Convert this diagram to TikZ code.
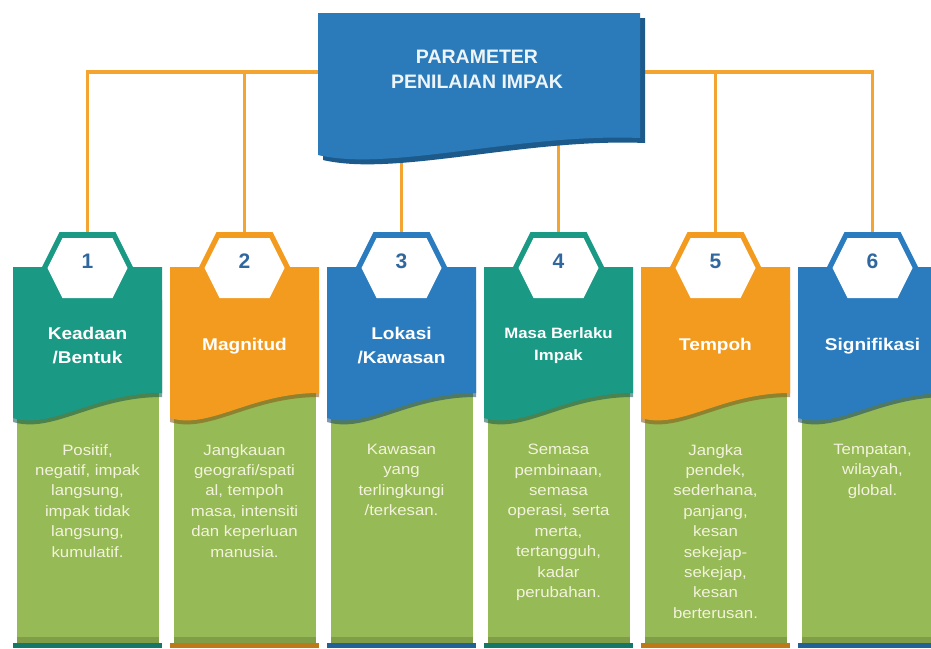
\documentclass[tikz,border=0pt]{standalone}
\usepackage{fontspec}
\setmainfont{Liberation Sans}
\newfontfamily\widefont[FakeStretch=1.12]{Liberation Sans}
\definecolor{cteal}{HTML}{1A9985}
\definecolor{corange}{HTML}{F39B1F}
\definecolor{cblue}{HTML}{2A7CBF}
\definecolor{cgreen}{HTML}{96BA55}
\definecolor{ctitle}{HTML}{2B7BBA}
\definecolor{ctitleshadow}{HTML}{1D5A8C}
\definecolor{cline}{HTML}{F4A430}
\definecolor{cdigit}{HTML}{30679F}
\definecolor{cbodytext}{HTML}{F3F3DD}
\tikzset{
  conn/.style={draw=cline, line width=3.4pt},
  headtext/.style={text=white, align=center, inner sep=0pt},
  bodytext/.style={text=cbodytext, align=center, inner sep=0pt, anchor=north,
    font=\widefont\fontsize{15}{20.4}\selectfont},
  digit/.style={text=cdigit, inner sep=0pt, font=\bfseries\fontsize{21}{21}\selectfont},
  titletext/.style={text=white!92!ctitle, align=center, inner sep=0pt,
    font=\bfseries\fontsize{19.5}{25}\selectfont}
}
% #1 index, #2 centre x, #3 colour, #4 header, #5 header font size, #6 leading, #7 body
\newcommand\mkcolumn[7]{%
  \fill[cgreen] ({#2-71},390) rectangle ({#2+71},643);
  \fill[cgreen!85!black] ({#2-71},637) rectangle ({#2+71},643);
  \fill[#3!78!black] ({#2-74.5},643) rectangle ({#2+74.5},648);
  \fill[#3!55!black, opacity=.55] ({#2-74.5},300) -- ({#2-74.5},422)
     .. controls ({#2-34.5},434) and ({#2+5.5},397) .. ({#2+74.5},397) -- ({#2+74.5},300) -- cycle;
  \fill[#3] ({#2-74.5},267) -- ({#2-74.5},418)
     .. controls ({#2-34.5},430) and ({#2+5.5},393) .. ({#2+74.5},393) -- ({#2+74.5},267) -- cycle;
  \fill[#3] ({#2-28},232) -- ({#2+28},232) -- ({#2+46},268) -- ({#2+28},304)
     -- ({#2-28},304) -- ({#2-46},268) -- cycle;
  \fill[white] ({#2-25},238) -- ({#2+25},238) -- ({#2+40},268) -- ({#2+25},298)
     -- ({#2-25},298) -- ({#2-40},268) -- cycle;
  \node[digit] (num#1) at (#2,261) {#1};
  \node[headtext, font=\widefont\bfseries\fontsize{#5}{#6}\selectfont] (head#1) at (#2,346) {#4};
  \node[bodytext] (body#1) at (#2,444) {#7};
}
\begin{document}
\begin{tikzpicture}[x=1pt,y=-1pt]
\useasboundingbox (0,0) rectangle (931,648);
\clip (0,0) rectangle (931,648);
\fill[white] (0,0) rectangle (931,648);
% connector anchor points
\coordinate (tw) at (318,72);
\coordinate (te) at (640,72);
\coordinate (tb3) at (401.5,150);
\coordinate (tb4) at (558.5,145);
\coordinate (hx1) at (87.5,232);
\coordinate (hx2) at (244.5,232);
\coordinate (hx3) at (401.5,232);
\coordinate (hx4) at (558.5,232);
\coordinate (hx5) at (715.5,232);
\coordinate (hx6) at (872.5,232);
% connectors
\draw[conn] (hx1) |- (tw);
\draw[conn] (hx2) |- (tw);
\draw[conn] (tb3) -- (hx3);
\draw[conn] (tb4) -- (hx4);
\draw[conn] (hx5) |- (te);
\draw[conn] (hx6) |- (te);
% title box
\fill[ctitleshadow] (323,18) -- (645,18) -- (645,143)
   .. controls (525,138) and (395,177) .. (323,160) -- cycle;
\fill[ctitle] (318,13) -- (640,13) -- (640,138)
   .. controls (520,133) and (390,172) .. (318,155) -- cycle;
\node[titletext] (title) at (477,69) {PARAMETER\\PENILAIAN IMPAK};
% columns
\mkcolumn{1}{87.5}{cteal}{Keadaan\\/Bentuk}{17}{24}{Positif,\\negatif, impak\\langsung,\\impak tidak\\langsung,\\kumulatif.}
\mkcolumn{2}{244.5}{corange}{Magnitud}{17}{24}{Jangkauan\\geografi/spati\\al, tempoh\\masa, intensiti\\dan keperluan\\manusia.}
\mkcolumn{3}{401.5}{cblue}{Lokasi\\/Kawasan}{17}{24}{Kawasan\\yang\\terlingkungi\\/terkesan.}
\mkcolumn{4}{558.5}{cteal}{Masa Berlaku\\Impak}{15}{22}{Semasa\\pembinaan,\\semasa\\operasi, serta\\merta,\\tertangguh,\\kadar\\perubahan.}
\mkcolumn{5}{715.5}{corange}{Tempoh}{17}{24}{Jangka\\pendek,\\sederhana,\\panjang,\\kesan\\sekejap-\\sekejap,\\kesan\\berterusan.}
\mkcolumn{6}{872.5}{cblue}{Signifikasi}{17}{24}{Tempatan,\\wilayah,\\global.}
\end{tikzpicture}
\end{document}
